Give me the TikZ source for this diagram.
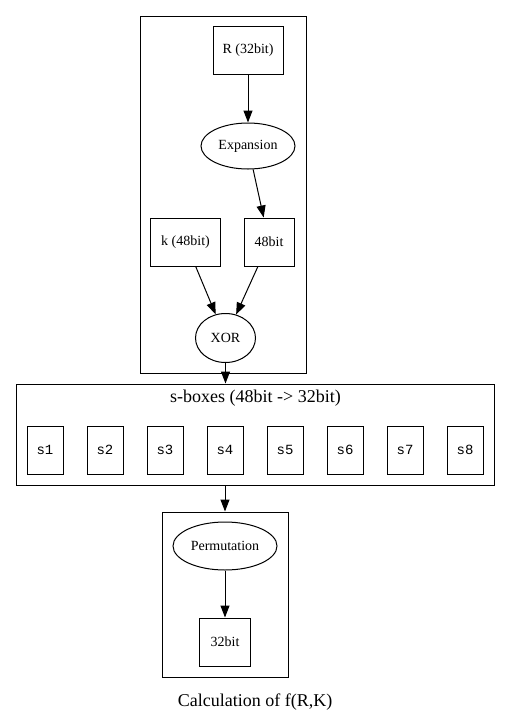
\documentclass[tikz,border=0pt]{standalone}
\usepackage{fontspec}
\setmainfont{Liberation Serif}
\setmonofont{Liberation Mono}
\usetikzlibrary{arrows.meta,shapes.geometric,positioning}

\begin{document}
\begin{tikzpicture}[x=1pt,y=1pt,>={Triangle[length=12pt,width=9pt]},line width=1pt,
    every node/.style={align=center,font=\fontsize{14}{16}\selectfont},
    box/.style={draw,rectangle,inner sep=0pt,minimum width=#1,minimum height=48pt},
    oval/.style={draw,ellipse,inner sep=0pt,minimum width=#1,minimum height=46pt},
    sbox/.style={draw,rectangle,inner sep=0pt,minimum width=36pt,minimum height=48pt,font=\ttfamily\fontsize{14}{16}\selectfont},
    cluster/.style={draw,rectangle,inner sep=0pt},
    bigtext/.style={font=\fontsize{18}{20}\selectfont}]
          \useasboundingbox (0,0) rectangle (511,-724);
          % clusters
          \node[cluster,minimum width=166pt,minimum height=357pt] (round) at (223,-194.5) {};
          \node[cluster,minimum width=478pt,minimum height=101pt] (sboxes) at (255,-434.5) {};
          \node[cluster,minimum width=126pt,minimum height=165pt] (final) at (225,-594.5) {};
          \node[bigtext] (sboxlabel) at (255.5,-398) {s-boxes (48bit -> 32bit)};
          \node[bigtext] (caption) at (255,-702) {Calculation of f(R,K)};

          \node[box=70pt] (R) at (248,-50) {R (32bit)};
          \node[oval=94pt] (exp) at (248,-146) {Expansion};
          \node[box=50pt] (half) at (269,-242) {48bit};
          \node[box=70pt] (key) at (185.5,-242) {k (48bit)};
          \node[oval=60pt,minimum height=49pt] (xor) at (225.5,-338) {XOR};
          \foreach \i in {1,...,8}
            \node[sbox] (s\i) at (60*\i-15,-450) {s\i};
          \node[oval=104pt,minimum height=48pt] (perm) at (225,-546) {Permutation};
          \node[box=51pt] (out) at (225,-642) {32bit};

          \path[->]
            (R) edge (exp)
            (exp) edge (half)
            (key) edge (xor)
            (half) edge (xor)
            (xor) edge (xor |- sboxes.north)
            (sboxes.south -| final.north) edge (final.north)
            (perm) edge (out)
            ;
        \end{tikzpicture}
\end{document}
